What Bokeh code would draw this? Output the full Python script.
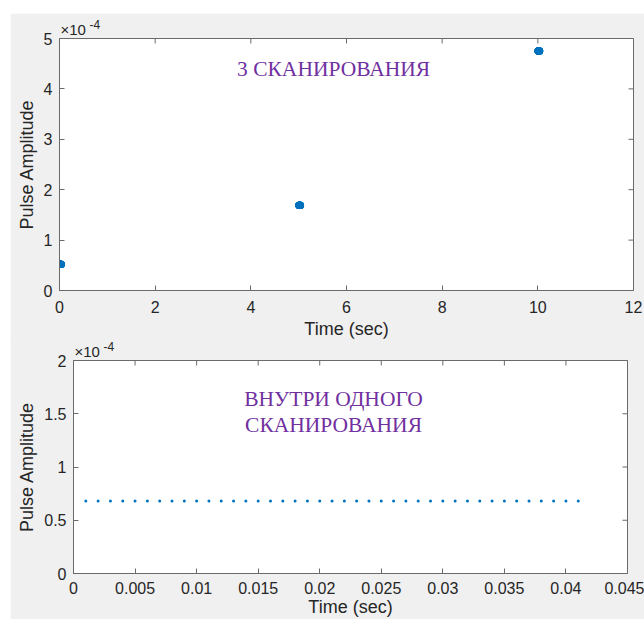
import math
from bokeh.plotting import figure
from bokeh.models import (FixedTicker, CustomJSTickFormatter, Label, Title,
                          Range1d, ColumnDataSource)
from bokeh.layouts import column
from bokeh.embed import file_html
from bokeh.resources import INLINE

# Scans: start time of each scan (s) and its pulse amplitude
scan_starts = [0, 5, 10]
scan_amplitudes = [0.52e-4, 1.69e-4, 4.75e-4]

# Pulses inside one scan: time (s) and amplitude
pulse_times = [0.001, 0.002, 0.003, 0.004, 0.005, 0.006, 0.007, 0.008, 0.009, 0.010,
               0.011, 0.012, 0.013, 0.014, 0.015, 0.016, 0.017, 0.018, 0.019, 0.020,
               0.021, 0.022, 0.023, 0.024, 0.025, 0.026, 0.027, 0.028, 0.029, 0.030,
               0.031, 0.032, 0.033, 0.034, 0.035, 0.036, 0.037, 0.038, 0.039, 0.040,
               0.041]
pulse_amplitudes = [0.68e-4, 0.68e-4, 0.68e-4, 0.68e-4, 0.68e-4, 0.68e-4, 0.68e-4,
                    0.68e-4, 0.68e-4, 0.68e-4, 0.68e-4, 0.68e-4, 0.68e-4, 0.68e-4,
                    0.68e-4, 0.68e-4, 0.68e-4, 0.68e-4, 0.68e-4, 0.68e-4, 0.68e-4,
                    0.68e-4, 0.68e-4, 0.68e-4, 0.68e-4, 0.68e-4, 0.68e-4, 0.68e-4,
                    0.68e-4, 0.68e-4, 0.68e-4, 0.68e-4, 0.68e-4, 0.68e-4, 0.68e-4,
                    0.68e-4, 0.68e-4, 0.68e-4, 0.68e-4, 0.68e-4, 0.68e-4]

# Tick positions
top_x_ticks = [0, 2, 4, 6, 8, 10, 12]
top_y_ticks = [0, 1e-4, 2e-4, 3e-4, 4e-4, 5e-4]
bottom_x_ticks = [0, 0.005, 0.01, 0.015, 0.02, 0.025, 0.03, 0.035, 0.04, 0.045]
bottom_y_ticks = [0, 0.5e-4, 1e-4, 1.5e-4, 2e-4]

BLUE = "#0072BD"
PURPLE = "#7030A0"
AXIS = "#6a6a6a"
TEXT = "#262626"
SANS = "Liberation Sans"
SERIF = "Liberation Serif"

plain_fmt = CustomJSTickFormatter(code="return String(+tick.toFixed(6));")
scaled_fmt = CustomJSTickFormatter(code="return String(+(tick*1e4).toFixed(4));")


def style_axes(p, xticks, yticks, x_end, y_end, tick_gap, label_gap):
    p.background_fill_color = "white"
    p.border_fill_color = "#f0f0f0"
    p.outline_line_color = AXIS
    p.xgrid.visible = False
    p.ygrid.visible = False
    for ax, ticks, fmt in ((p.xaxis[0], xticks, plain_fmt), (p.yaxis[0], yticks, scaled_fmt)):
        ax.ticker = FixedTicker(ticks=ticks)
        ax.formatter = fmt
        ax.minor_tick_line_color = None
        ax.major_tick_in = 5
        ax.major_tick_out = 0
        ax.major_tick_line_color = AXIS
        ax.axis_line_color = AXIS
        ax.major_label_text_font = SANS
        ax.major_label_text_font_size = "16px"
        ax.major_label_text_color = TEXT
        ax.axis_label_text_font = SANS
        ax.axis_label_text_font_size = "18px"
        ax.axis_label_text_font_style = "normal"
        ax.axis_label_text_color = TEXT
    p.xaxis[0].axis_label = "Time (sec)"
    p.xaxis[0].major_label_standoff = tick_gap
    p.xaxis[0].axis_label_standoff = label_gap
    p.yaxis[0].axis_label = "Pulse Amplitude"
    p.yaxis[0].major_label_standoff = 7
    p.yaxis[0].axis_label_standoff = 4
    # inward ticks along the top and right edges of the box
    p.scatter(xticks, [y_end] * len(xticks), marker="dash", size=10, angle=math.pi / 2,
              line_color=AXIS, line_width=1)
    p.scatter([x_end] * len(yticks), yticks, marker="dash", size=10,
              line_color=AXIS, line_width=1)
    # axis exponent: base, then the raised power
    p.add_layout(Title(text="×10", align="left", offset=1, standoff=2,
                       text_font=SANS, text_font_size="15px", text_font_style="normal",
                       text_color=TEXT), "above")
    p.add_layout(Title(text="-4", align="left", offset=30, standoff=-22,
                       text_font=SANS, text_font_size="12px", text_font_style="normal",
                       text_color=TEXT), "above")
    if hasattr(p, "frame_align"):
        p.frame_align = False


# Top: amplitude of each scan over the whole observation
top_x = [s + t for s, a in zip(scan_starts, scan_amplitudes) for t in pulse_times]
top_y = [a for s, a in zip(scan_starts, scan_amplitudes) for t in pulse_times]
src_top = ColumnDataSource(dict(x=top_x, y=top_y))

p1 = figure(width=634, height=329, x_range=Range1d(0, 12), y_range=Range1d(0, 5e-4),
            output_backend="svg", toolbar_location=None, title=None,
            min_border_left=49, min_border_right=11, min_border_top=25, min_border_bottom=52)
p1.scatter("x", "y", source=src_top, size=7, color=BLUE, line_color=None)
style_axes(p1, top_x_ticks, top_y_ticks, 12, 5e-4, 10, 3)
p1.add_layout(Label(x=5.73, y=4.40e-4, text="3 СКАНИРОВАНИЯ", text_font=SERIF,
                    text_font_size="21.5px", text_color=PURPLE,
                    text_align="center", text_baseline="middle"))

# Bottom: pulses within a single scan
src_bot = ColumnDataSource(dict(x=pulse_times, y=pulse_amplitudes))
p2 = figure(width=634, height=281, x_range=Range1d(0, 0.045), y_range=Range1d(0, 2e-4),
            output_backend="svg", toolbar_location=None, title=None,
            min_border_left=63, min_border_right=17, min_border_top=22, min_border_bottom=46,
            margin=(-4, 0, 0, 0))
p2.scatter("x", "y", source=src_bot, size=3, color=BLUE, line_color=None)
style_axes(p2, bottom_x_ticks, bottom_y_ticks, 0.045, 2e-4, 8, 0)
p2.add_layout(Label(x=0.02112, y=1.634e-4, text="ВНУТРИ ОДНОГО", text_font=SERIF,
                    text_font_size="21.5px", text_color=PURPLE,
                    text_align="center", text_baseline="middle"))
p2.add_layout(Label(x=0.02112, y=1.39e-4, text="СКАНИРОВАНИЯ", text_font=SERIF,
                    text_font_size="21.5px", text_color=PURPLE,
                    text_align="center", text_baseline="middle"))

layout = column(p1, p2, spacing=0, margin=(13, 0, 0, 10))

with open("out.html", "w") as f:
    f.write(file_html(layout, INLINE))
